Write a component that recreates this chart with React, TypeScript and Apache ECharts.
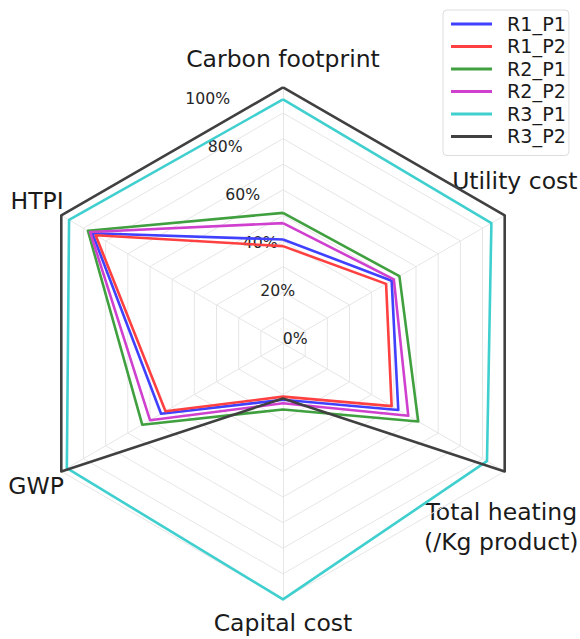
import React, { useEffect, useRef } from "react";
import * as echarts from "echarts";

// Radar axes, listed counter-clockwise from the top
const categories = [
  "Carbon footprint",
  "HTPI",
  "GWP",
  "Capital cost",
  "Total heating\n(/Kg product)",
  "Utility cost",
];

// Scores in percent, same order as categories
const r1p1 = [40.6, 86, 55, 22, 52, 49];
const r1p2 = [38, 84.5, 53, 20.8, 49, 46.5];
const r2p1 = [51, 88, 63.5, 25.8, 61, 52.5];
const r2p2 = [47, 87, 60, 23.4, 56.5, 50];
const r3p1 = [95.3, 96.5, 97.5, 100, 92, 94];
const r3p2 = [100, 100, 100, 21.5, 100, 100];

const seriesNames = ["R1_P1", "R1_P2", "R2_P1", "R2_P2", "R3_P1", "R3_P2"];
const seriesValues = [r1p1, r1p2, r2p1, r2p2, r3p1, r3p2];
const seriesColors = ["#4040ff", "#ff4040", "#40a040", "#cf40cf", "#40cfcf", "#404040"];

const tickValues = [0, 20, 40, 60, 80, 100];

// Layout
const CX = 283;
const CY = 343.4;
const R = 256;
// label placement around the radar: [angle in degrees, distance from centre]
const namePlacement: [number, number][] = [
  [90, 284],
  [150, 284],
  [210, 285],
  [270, 280],
  [-40, 285],
  [35, 283],
];

const FONT = "'DejaVu Sans', sans-serif";

export default function App() {
  const ref = useRef<HTMLDivElement>(null);

  useEffect(() => {
    if (!ref.current) return;
    const chart = echarts.init(ref.current, null, { renderer: "svg" });

    const nameTexts = categories.map((name, i) => {
      const [deg, dist] = namePlacement[i];
      const a = (deg * Math.PI) / 180;
      return {
        type: "text",
        x: CX + dist * Math.cos(a),
        y: CY - dist * Math.sin(a),
        style: {
          text: name,
          align: "center",
          verticalAlign: "middle",
          fontFamily: FONT,
          fontSize: 23.5,
          lineHeight: 30,
          fill: "#1a1a1a",
        },
      };
    });

    chart.setOption({
      animation: false,
      backgroundColor: "#ffffff",
      legend: {
        orient: "vertical",
        left: 443,
        top: 10,
        padding: [3, 3, 8, 8],
        borderColor: "#dddddd",
        borderWidth: 1,
        borderRadius: 4,
        itemWidth: 41,
        itemHeight: 3,
        itemGap: 0.5,
        icon: "rect",
        data: seriesNames,
        textStyle: {
          fontFamily: FONT,
          fontSize: 19.2,
          lineHeight: 22,
          color: "#1a1a1a",
          padding: [0, 0, 0, 10],
        },
      },
      radar: {
        center: [CX, CY],
        radius: R,
        startAngle: 90,
        shape: "polygon",
        splitNumber: 10,
        indicator: categories.map((name) => ({ name, min: 0, max: 100 })),
        axisName: { show: false },
        axisLine: { lineStyle: { color: "#e6e6e6", width: 1 } },
        splitLine: { lineStyle: { color: "#e6e6e6", width: 1 } },
        splitArea: { show: false },
      },
      // percentage scale drawn along a tilted radial axis
      polar: { center: [CX, CY], radius: R },
      angleAxis: { type: "value", startAngle: 110, min: 0, max: 360, show: false },
      radiusAxis: {
        type: "value",
        min: 0,
        max: 100,
        interval: 20,
        axisLine: { show: false },
        axisTick: { show: false },
        splitLine: { show: false },
        axisLabel: {
          formatter: (v: number) => (tickValues.includes(v) ? `${v}%` : ""),
          margin: -13,
          align: "center",
          verticalAlign: "middle",
          fontFamily: FONT,
          fontSize: 15.7,
          color: "#262626",
        },
      },
      series: [
        {
          type: "radar",
          symbol: "none",
          data: seriesNames.map((name, i) => ({
            name,
            value: seriesValues[i],
            lineStyle: { color: seriesColors[i], width: 2.6 },
            itemStyle: { color: seriesColors[i] },
          })),
        },
      ],
      graphic: nameTexts,
    });

    return () => chart.dispose();
  }, []);

  return (
    <div
      ref={ref}
      style={{ position: "fixed", left: 0, top: 0, width: 580, height: 639 }}
    />
  );
}
